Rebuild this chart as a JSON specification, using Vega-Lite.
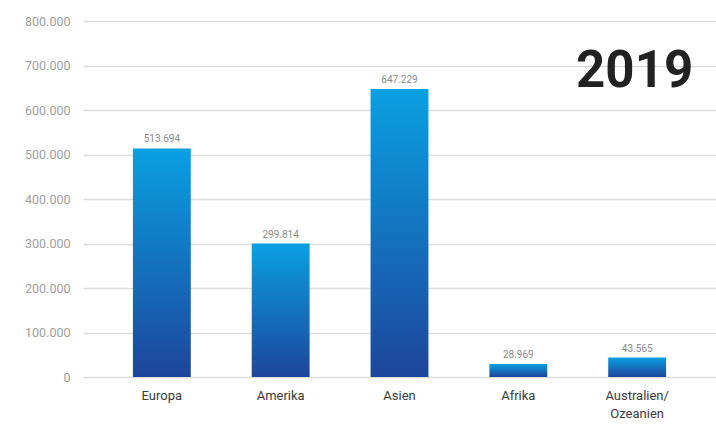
{
  "$schema": "https://vega.github.io/schema/vega-lite/v6.json",
  "autosize": {"type": "none"},
  "padding": {"left": 83, "top": 21, "right": 0, "bottom": 50},
  "width": 633,
  "height": 356,
  "background": "white",
  "config": {"view": {"stroke": null}, "font": "Roboto"},
  "datasets": {
    "regions": [
      {"region": "Europa", "value": 513694},
      {"region": "Amerika", "value": 299814},
      {"region": "Asien", "value": 647229},
      {"region": "Afrika", "value": 28969},
      {"region": "Australien/Ozeanien", "value": 43565}
    ],
    "year": [{"label": "2019", "region": "Australien/Ozeanien", "pos": 652000}]
  },
  "layer": [
    {
      "data": {"name": "regions"},
      "mark": {
        "type": "bar",
        "color": {
          "gradient": "linear",
          "x1": 0, "y1": 0, "x2": 0, "y2": 1,
          "stops": [
            {"offset": 0, "color": "#0aa0e2"},
            {"offset": 1, "color": "#1d459c"}
          ]
        }
      },
      "encoding": {
        "x": {
          "field": "region",
          "type": "nominal",
          "sort": null,
          "scale": {"paddingInner": 0.513, "paddingOuter": 0.42},
          "axis": {
            "title": null,
            "labelAngle": 0,
            "domain": false,
            "ticks": false,
            "labelPadding": 12,
            "labelFontSize": 13,
            "labelColor": "#3a3a3a",
            "labelLineHeight": 18,
            "labelExpr": "datum.label == 'Australien/Ozeanien' ? ['Australien/', 'Ozeanien'] : datum.label"
          }
        },
        "y": {
          "field": "value",
          "type": "quantitative",
          "scale": {"domain": [0, 800000], "nice": false},
          "axis": {
            "title": null,
            "values": [0, 100000, 200000, 300000, 400000, 500000, 600000, 700000, 800000],
            "domain": false,
            "ticks": false,
            "labelPadding": 13,
            "labelFontSize": 12.5,
            "labelColor": "#a0a0a0",
            "gridColor": "#dddddd",
            "gridWidth": 1.5,
            "labelExpr": "replace(format(datum.value, ','), /,/g, '.')"
          }
        }
      }
    },
    {
      "data": {"name": "regions"},
      "transform": [
        {"calculate": "replace(format(datum.value, ','), /,/g, '.')", "as": "valueLabel"}
      ],
      "mark": {"type": "text", "dy": -4, "fontSize": 10, "color": "#8a8a8a", "baseline": "bottom"},
      "encoding": {
        "x": {"field": "region", "type": "nominal", "sort": null},
        "y": {"field": "value", "type": "quantitative"},
        "text": {"field": "valueLabel", "type": "nominal"}
      }
    },
    {
      "data": {"name": "year"},
      "mark": {
        "type": "text",
        "align": "right",
        "baseline": "alphabetic",
        "dx": 56,
        "fontSize": 51,
        "fontWeight": "bold",
        "color": "#222222"
      },
      "encoding": {
        "x": {"field": "region", "type": "nominal", "sort": null},
        "y": {"field": "pos", "type": "quantitative"},
        "text": {"field": "label", "type": "nominal"}
      }
    }
  ]
}
